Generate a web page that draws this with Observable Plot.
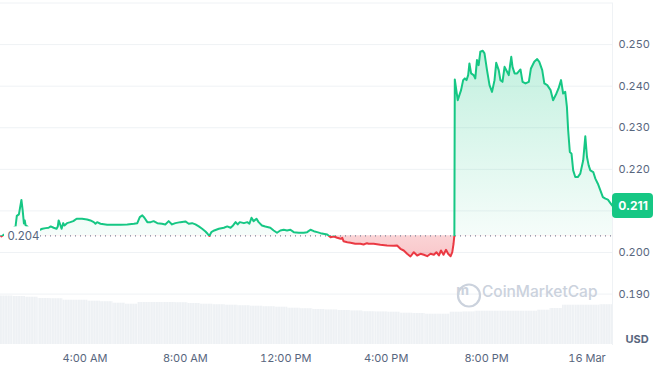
<!DOCTYPE html>
<html><head><meta charset="utf-8">
<script src="https://cdn.jsdelivr.net/npm/d3@7"></script>
<script src="https://cdn.jsdelivr.net/npm/@observablehq/plot@0.6"></script>
<style>
html,body{margin:0;padding:0;background:#fff;}
#chart{width:670px;height:374px;}
</style></head><body><div id="chart"></div>
<script>
// ---- data (minutes after 15 Mar 00:00 UTC, price in USD) ----
const dayStart = Date.UTC(2025, 2, 15);
const startMinute = 38;
const endMinute = 1501;
const openPrice = 0.204;

const priceMinutes = [40,74,77,82,88,91,94,96,98,102,112,124,138,146,153,158,165,172,175,177,180,184,188,191,197,205,212,220,233,245,253,261,265,269,277,293,309,325,341,357,365,371,377,382,389,397,404,413,424,432,440,448,456,468,480,488,496,504,512,520,528,533,537,542,549,560,572,580,588,594,600,605,610,620,628,633,638,643,650,655,663,671,683,691,699,707,715,723,731,739,751,763,771,779,787,795,803,819,827,835,843,851,855,858,867,875,886,898,906,914,918,930,946,962,978,986,994,1002,1010,1018,1026,1034,1042,1050,1058,1066,1074,1080,1086,1091,1097,1103,1108,1114,1118,1121,1123,1124,1131,1135,1139,1144,1148,1152,1156,1159,1163,1169,1173,1177,1181,1185,1191,1195,1201,1207,1213,1219,1223,1229,1233,1238,1243,1249,1253,1259,1262,1267,1273,1281,1286,1293,1301,1306,1314,1321,1326,1333,1338,1345,1353,1359,1367,1372,1378,1383,1388,1392,1395,1399,1403,1407,1412,1418,1424,1431,1436,1440,1444,1448,1455,1460,1466,1472,1478,1484,1490,1496,1501];

const priceValues = [0.20386,0.20627,0.20880,0.20916,0.21265,0.21012,0.20699,0.20771,0.20651,0.20627,0.20482,0.20506,0.20571,0.20586,0.20595,0.20627,0.20595,0.20571,0.20627,0.20771,0.20692,0.20571,0.20706,0.20651,0.20706,0.20730,0.20754,0.20812,0.20812,0.20795,0.20771,0.20730,0.20692,0.20730,0.20692,0.20667,0.20667,0.20667,0.20675,0.20692,0.20706,0.20851,0.20892,0.20836,0.20730,0.20730,0.20754,0.20706,0.20692,0.20675,0.20754,0.20675,0.20706,0.20730,0.20747,0.20692,0.20706,0.20675,0.20627,0.20571,0.20506,0.20451,0.20398,0.20489,0.20530,0.20571,0.20595,0.20627,0.20595,0.20651,0.20730,0.20675,0.20730,0.20706,0.20730,0.20692,0.20836,0.20754,0.20812,0.20730,0.20651,0.20627,0.20595,0.20530,0.20475,0.20530,0.20547,0.20530,0.20547,0.20489,0.20475,0.20475,0.20489,0.20547,0.20513,0.20489,0.20465,0.20434,0.20369,0.20386,0.20354,0.20330,0.20354,0.20272,0.20248,0.20234,0.20210,0.20210,0.20193,0.20224,0.20210,0.20210,0.20186,0.20169,0.20161,0.20169,0.20089,0.20048,0.19969,0.19904,0.20007,0.19928,0.19969,0.19945,0.19911,0.19969,0.19945,0.20007,0.19928,0.20048,0.19945,0.20065,0.19969,0.19911,0.20007,0.20210,0.20410,0.24162,0.23663,0.23783,0.23904,0.24145,0.24186,0.24145,0.24265,0.24547,0.24306,0.24265,0.24186,0.24627,0.24506,0.24827,0.24851,0.24788,0.24386,0.24024,0.23863,0.24145,0.24561,0.24386,0.24145,0.24104,0.24465,0.24345,0.24265,0.24706,0.24465,0.24306,0.24306,0.24402,0.24104,0.24065,0.24104,0.24426,0.24586,0.24651,0.24586,0.24386,0.24065,0.24024,0.23904,0.23663,0.23824,0.23945,0.24145,0.23824,0.23863,0.23501,0.22940,0.22417,0.22378,0.21976,0.21814,0.21814,0.21896,0.22217,0.22795,0.22296,0.22096,0.21976,0.21935,0.21776,0.21655,0.21494,0.21333,0.21294,0.21270,0.21188,0.21120];

// volume (relative units), evenly spaced bars across the period
const volumeValues = [4.85,4.8,4.73,4.6,4.58,4.43,4.43,4.33,4.28,4.13,4.03,4.2,4.2,4.2,4.18,4.1,4.03,3.98,3.93,3.88,3.83,3.78,3.73,3.63,3.58,3.5,3.46,3.4,3.36,3.28,3.26,3.23,3.13,3.1,3.03,3.03,3.23,3.26,3.33,3.33,3.33,3.33,3.33,3.43,3.6,3.93,3.93,3.93,3.98];

// the 0.210 label is covered by the last-price badge in the reference
const yTickValues = [0.19, 0.20, 0.22, 0.23, 0.24, 0.25];
const gridValues = [0.19, 0.20, 0.21, 0.22, 0.23, 0.24, 0.25, 0.26];
const xTickMinutes = [240, 480, 720, 960, 1200, 1440];

// ---- build ----
const GREEN = "#16c784", RED = "#ea3943", TEXT = "#58667e", GRID = "#eff2f5", MARK = "#cbd2dd";
const toDate = m => new Date(dayStart + m * 60000);
const yMin = 0.177635, yMax = 0.26;

const prices = priceMinutes.map((m, i) => ({date: toDate(m), price: priceValues[i]}));
const last = prices[prices.length - 1];
const barW = (endMinute - startMinute) / volumeValues.length;
const volumes = volumeValues.map((v, i) => ({
  x1: toDate(startMinute + i * barW), x2: toDate(startMinute + (i + 1) * barW), v
}));
const volToY = d3.scaleLinear().domain([0, 6]).range([yMin + 0.00024, yMin + 0.01467]);

const fmtHour = d3.utcFormat("%-I:%M %p"), fmtDay = d3.utcFormat("%-d %b");

const svg = Plot.plot({
  width: 670, height: 374,
  marginLeft: 0, marginRight: 58, marginTop: 2.5, marginBottom: 29,
  style: {fontFamily: "Inter, 'Noto Sans', sans-serif", fontSize: "11px", color: TEXT, background: "#fff"},
  x: {type: "utc", domain: [toDate(startMinute), toDate(endMinute)],
      ticks: xTickMinutes.map(toDate), tickSize: 0, tickPadding: 9, label: null,
      tickFormat: d => d.getUTCHours() === 0 ? fmtDay(d) : fmtHour(d)},
  y: {domain: [yMin, yMax], axis: "right", ticks: yTickValues, tickFormat: ".3f",
      tickSize: 0, tickPadding: 6, label: null},
  marks: [
    Plot.gridY(gridValues, {stroke: GRID, strokeOpacity: 1}),
    Plot.ruleX([toDate(endMinute)], {stroke: GRID, strokeOpacity: 1}),
    Plot.rect(volumes, {x1: "x1", x2: "x2", y1: () => volToY(0), y2: d => volToY(d.v), fill: "url(#volPat)"}),
    Plot.areaY(prices, {x: "date", y1: () => openPrice, y2: "price", fill: "url(#cmcArea)"}),
    Plot.ruleY([openPrice], {stroke: "#7d8498", strokeDasharray: "1,4", strokeWidth: 1.2}),
    Plot.line(prices, {x: "date", y: "price", stroke: "url(#cmcLine)", strokeWidth: 2}),
    // open price label
    Plot.rect([openPrice], {x1: () => toDate(startMinute), x2: () => toDate(startMinute), y1: d => d, y2: d => d,
      insetLeft: 4, insetRight: -40, insetTop: -9, insetBottom: -10, fill: "#fff"}),
    Plot.text([openPrice], {x: () => toDate(startMinute), y: d => d, text: d => d3.format(".3f")(d),
      dx: 7, textAnchor: "start", fill: TEXT, fontSize: 11.5}),
    // last price badge
    Plot.rect([last], {x1: () => toDate(endMinute), x2: () => toDate(endMinute), y1: "price", y2: "price",
      insetLeft: 0, insetRight: -41, insetTop: -12.5, insetBottom: -12.5, fill: GREEN, rx: 4}),
    Plot.text([last], {x: () => toDate(endMinute), y: "price", text: d => d3.format(".3f")(d.price),
      dx: 20.5, fill: "#fff", fontWeight: 700, fontSize: 12}),
    // watermark
    Plot.dot([0], {frameAnchor: "bottom-right", dx: -143.5, dy: -50, r: 11, stroke: MARK, strokeWidth: 2.2, fill: "none"}),
    Plot.text(["m"], {frameAnchor: "bottom-right", dx: -143.5, dy: -51, text: d => d, fill: MARK, fontSize: 14, fontWeight: 700}),
    Plot.text(["CoinMarketCap"], {frameAnchor: "bottom-right", dx: -15, dy: -49, text: d => d, textAnchor: "end", fill: MARK, fontSize: 15.5, fontWeight: 500}),
    Plot.text(["USD"], {frameAnchor: "bottom-right", dx: 13, dy: -3, text: d => d, textAnchor: "start", fill: TEXT, fontWeight: 700, fontSize: 11})
  ]
});

const ys = svg.scale("y");
const y0 = ys.apply(openPrice), yTop = ys.apply(0.25), yLow = ys.apply(0.199);
const defs = d3.select(svg).insert("defs", ":first-child");
const lg = defs.append("linearGradient").attr("id", "cmcLine").attr("gradientUnits", "userSpaceOnUse")
  .attr("x1", 0).attr("x2", 0).attr("y1", 0).attr("y2", 374);
const off = y0 / 374;
[[0, GREEN], [off, GREEN], [off, RED], [1, RED]].forEach(([o, c]) =>
  lg.append("stop").attr("offset", o).attr("stop-color", c));
const ag = defs.append("linearGradient").attr("id", "cmcArea").attr("gradientUnits", "userSpaceOnUse")
  .attr("x1", 0).attr("x2", 0).attr("y1", yTop).attr("y2", yLow);
const aoff = (y0 - yTop) / (yLow - yTop);
[[0, GREEN, 0.27], [aoff, GREEN, 0.04], [aoff, RED, 0.22], [1, RED, 0.28]].forEach(([o, c, a]) =>
  ag.append("stop").attr("offset", o).attr("stop-color", c).attr("stop-opacity", a));
const pat = defs.append("pattern").attr("id", "volPat").attr("patternUnits", "userSpaceOnUse")
  .attr("width", 2.6).attr("height", 10);
pat.append("rect").attr("width", 2.6).attr("height", 10).attr("fill", "#eef1f4");
pat.append("rect").attr("x", 2.0).attr("width", 0.6).attr("height", 10).attr("fill", "#ffffff").attr("opacity", 0.55);

document.getElementById("chart").appendChild(svg);
</script>
</body></html>
